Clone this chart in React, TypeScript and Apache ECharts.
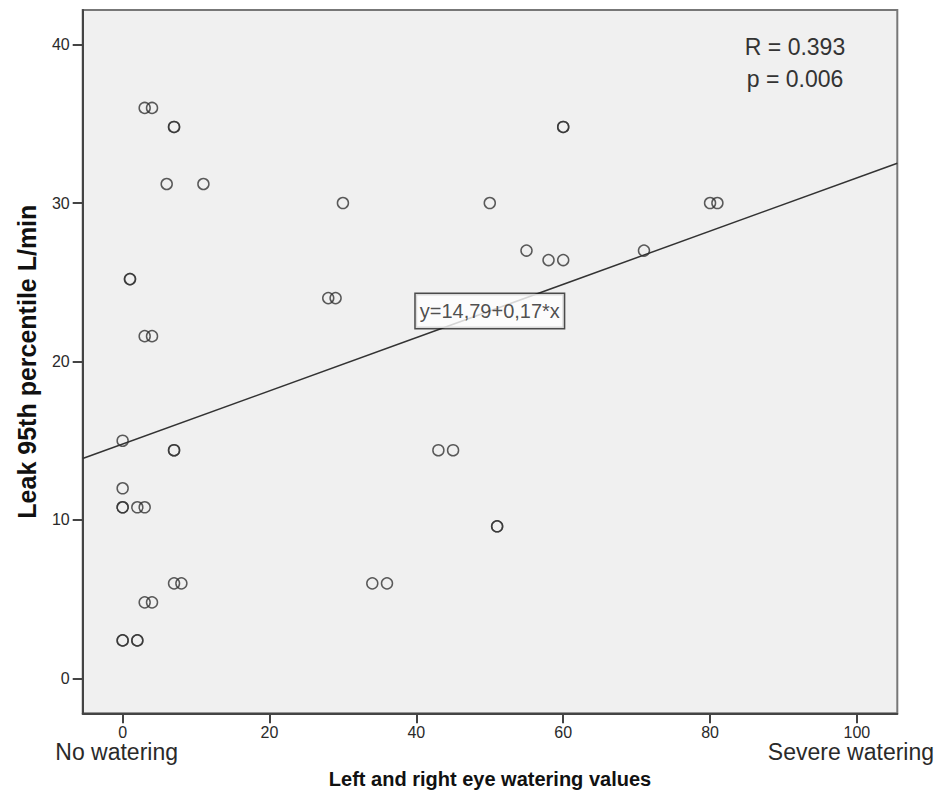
import React, { useEffect, useRef } from "react";
import * as echarts from "echarts";

// Observations: eye watering value (x) vs leak 95th percentile (y)
const xValues = [3, 4, 7, 7, 6, 11, 1, 1, 3, 4, 0, 7, 7, 0, 0, 0, 2, 3, 7, 8, 3, 4, 0, 0, 2, 2, 28, 29, 30, 50, 55, 58, 60, 60, 60, 71, 80, 81, 43, 45, 51, 51, 34, 36];
const yValues = [36, 36, 34.8, 34.8, 31.2, 31.2, 25.2, 25.2, 21.6, 21.6, 15, 14.4, 14.4, 12, 10.8, 10.8, 10.8, 10.8, 6, 6, 4.8, 4.8, 2.4, 2.4, 2.4, 2.4, 24, 24, 30, 30, 27, 26.4, 26.4, 34.8, 34.8, 27, 30, 30, 14.4, 14.4, 9.6, 9.6, 6, 6];

const xTicks = [0, 20, 40, 60, 80, 100];
const yTicks = [0, 10, 20, 30, 40];
const xEndLabels: Record<number, string> = { 0: "No watering", 100: "Severe watering" };

const xRange = [-5.44, 105.5];
const yRange = [-2.2, 42.18];

const INTERCEPT = 14.79;
const SLOPE = 0.168;
const equationText = "y=14,79+0,17*x";
const statsText = ["R = 0.393", "p = 0.006"];
const equationAtX = 50;

const FONT = "'Liberation Sans', Arial, sans-serif";

export default function App() {
  const ref = useRef<HTMLDivElement>(null);
  useEffect(() => {
    if (!ref.current) return;
    const chart = echarts.init(ref.current, undefined, { renderer: "svg" });
    const points = xValues.map((x, i) => [x, yValues[i]]);
    const lineData = [xRange[0], xRange[1]].map((x) => [x, INTERCEPT + SLOPE * x]);
    chart.setOption({
      animation: false,
      grid: {
        left: 82.7,
        right: 44.7,
        top: 10,
        bottom: 77.7,
        show: true,
        backgroundColor: "#f0f0f0",
        borderColor: "#777",
        borderWidth: 2,
        outerBoundsMode: "none",
      },
      xAxis: {
        type: "value",
        min: xRange[0],
        max: xRange[1],
        name: "Left and right eye watering values",
        nameLocation: "middle",
        nameGap: 49,
        nameTextStyle: { fontFamily: FONT, fontWeight: "bold", fontSize: 20, color: "#111" },
        axisLine: { show: true, onZero: false, lineStyle: { color: "#444", width: 2 } },
        axisTick: { show: true, length: 10, customValues: xTicks, lineStyle: { color: "#444", width: 2 } },
        axisLabel: {
          customValues: xTicks,
          margin: 12,
          formatter: (v: number) =>
            xEndLabels[v] !== undefined ? `{a|${v}}\n{b|${xEndLabels[v]}}` : `{a|${v}}`,
          rich: {
            a: { fontFamily: FONT, fontSize: 16, lineHeight: 14, color: "#2a2a2a" },
            b: { fontFamily: FONT, fontSize: 23, lineHeight: 26, color: "#2a2a2a", padding: [0, 12, 0, 0] },
          },
          fontFamily: FONT,
          fontSize: 16,
          color: "#2a2a2a",
        },
        splitLine: { show: false },
      },
      yAxis: {
        type: "value",
        min: yRange[0],
        max: yRange[1],
        name: "Leak 95th percentile L/min",
        nameLocation: "middle",
        nameGap: 43,
        nameTextStyle: { fontFamily: FONT, fontWeight: "bold", fontSize: 25, color: "#111" },
        axisLine: { show: true, onZero: false, lineStyle: { color: "#444", width: 2 } },
        axisTick: { show: true, length: 10, customValues: yTicks, lineStyle: { color: "#444", width: 2 } },
        axisLabel: { customValues: yTicks, margin: 13, fontFamily: FONT, fontSize: 16, color: "#2a2a2a" },
        splitLine: { show: false },
      },
      series: [
        {
          type: "line",
          data: lineData,
          showSymbol: false,
          symbol: "none",
          lineStyle: { color: "#333", width: 1.5 },
          z: 2,
        },
        {
          type: "scatter",
          data: points,
          symbol: "circle",
          symbolSize: 11,
          itemStyle: { color: "rgba(0,0,0,0)", borderColor: "#333", borderWidth: 1.5 },
          z: 3,
        },
        {
          type: "scatter",
          data: [[equationAtX, INTERCEPT + SLOPE * equationAtX]],
          symbol: "circle",
          symbolSize: 0,
          z: 5,
          label: {
            show: true,
            position: "inside",
            formatter: equationText,
            fontFamily: FONT,
            fontSize: 20,
            color: "#222",
            backgroundColor: "#fff",
            borderColor: "#222",
            borderWidth: 1.5,
            padding: [7, 4, 7, 4],
          },
        },
      ],
      graphic: [
        {
          type: "text",
          x: 795,
          y: 31,
          z: 10,
          style: {
            text: statsText.join("\n"),
            textAlign: "center",
            fontFamily: FONT,
            fontSize: 23,
            lineHeight: 32,
            fill: "#333",
          },
        },
      ],
    });
    return () => chart.dispose();
  }, []);
  return (
    <div
      ref={ref}
      style={{ position: "fixed", left: 0, top: 0, width: 942, height: 791, background: "#fff" }}
    />
  );
}
